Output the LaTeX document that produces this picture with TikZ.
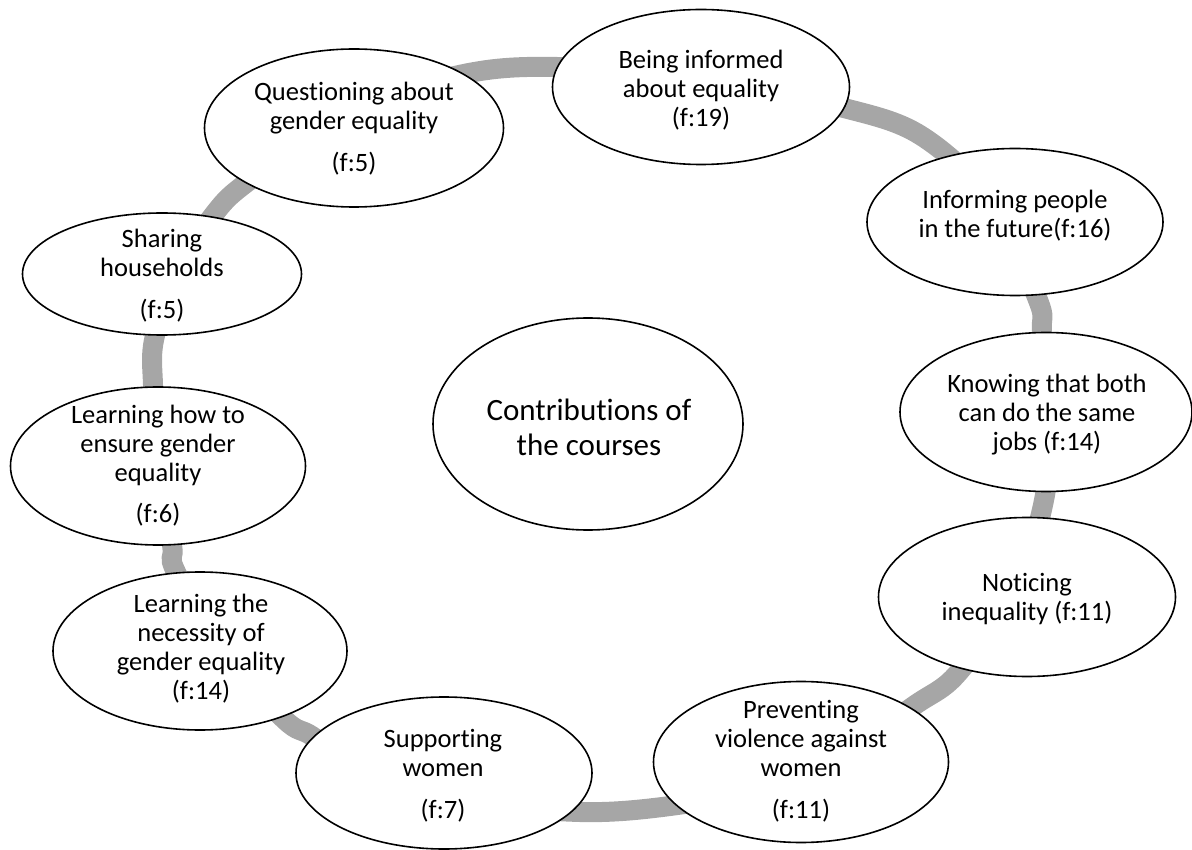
\documentclass[tikz,border=0pt]{standalone}
\usepackage{fontspec}
\setmainfont{Carlito}[Ligatures={NoCommon,NoContextual}]
\usetikzlibrary{shapes.geometric}

\definecolor{ringgray}{RGB}{166,166,166}

\begin{document}
\begin{tikzpicture}[x=1pt,y=-1pt,
  item/.style={ellipse, draw=black, line width=1.6pt, fill=white, inner sep=0pt},
  lbl/.style={align=center, inner sep=0pt, font=\fontsize{26.5}{29}\selectfont},
  hub/.style={align=center, inner sep=0pt, font=\fontsize{31}{35}\selectfont},
]
\useasboundingbox (0,0) rectangle (1192,850);

% grey ring linking the outcomes
\draw[ringgray, line width=20pt] plot[smooth cycle, tension=0.55] coordinates {
  (464,74) (557,67) (700,78) (840,107) (920,135) (990,200) (1038,300) (1042,333)
  (1047,415) (1045,495) (1015,590) (958,673) (915,705) (840,755) (750,790)
  (670,806) (580,812) (450,800) (360,770) (312,736) (285,720) (220,650)
  (175,570) (172,545) (158,465) (153,385) (154,340) (175,275) (215,213)
  (250,180) (350,110)};

% outcome ellipses
\node[item, minimum width=299pt, minimum height=158pt] (quest) at (354,128) {};
\node[item, minimum width=297pt, minimum height=155pt] (inform) at (701,87) {};
\node[item, minimum width=296pt, minimum height=147pt] (future) at (1015,222) {};
\node[item, minimum width=292pt, minimum height=159pt] (jobs) at (1046,412) {};
\node[item, minimum width=297pt, minimum height=159pt] (notice) at (1027,597) {};
\node[item, minimum width=295pt, minimum height=161pt] (violence) at (801,762) {};
\node[item, minimum width=296pt, minimum height=152pt] (support) at (444,773) {};
\node[item, minimum width=294pt, minimum height=158pt] (necess) at (200,651) {};
\node[item, minimum width=295pt, minimum height=158pt] (ensure) at (158,466) {};
\node[item, minimum width=279pt, minimum height=122pt] (house) at (162,274) {};
\node[item, minimum width=310pt, minimum height=212pt] (hubshape) at (588,424) {};

% labels
\node[lbl] (quest-t) at (354,129) {Questioning about\\gender equality\\[13pt](f:5)};
\node[lbl] (inform-t) at (701,90) {Being informed\\about equality\\(f:19)};
\node[lbl] (future-t) at (1015,216) {Informing people\\in the future(f:16)};
\node[lbl] (jobs-t) at (1047,415) {Knowing that both\\can do the same\\jobs (f:14)};
\node[lbl] (notice-t) at (1027,599) {Noticing\\inequality (f:11)};
\node[lbl] (violence-t) at (801,761) {Preventing\\violence against\\women\\[13pt](f:11)};
\node[lbl] (support-t) at (443,776) {Supporting\\women\\[13pt](f:7)};
\node[lbl] (necess-t) at (201,649) {Learning the\\necessity of\\gender equality\\(f:14)};
\node[lbl] (ensure-t) at (158,466) {Learning how to\\ensure gender\\equality\\[12pt](f:6)};
\node[lbl] (house-t) at (162,276) {Sharing\\households\\[13pt](f:5)};
\node[hub] (hub-t) at (589,427) {Contributions of\\the courses};
\end{tikzpicture}
\end{document}
